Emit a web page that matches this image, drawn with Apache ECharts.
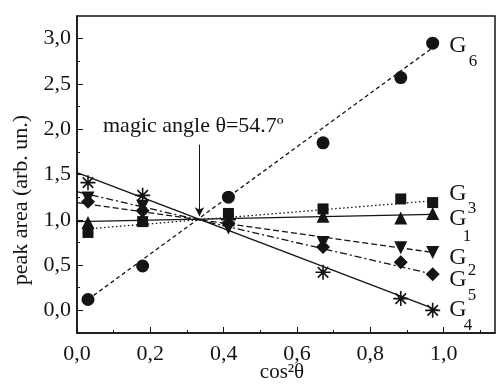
<!DOCTYPE html>
<html>
<head>
<meta charset="utf-8">
<script src="https://cdn.jsdelivr.net/npm/echarts@6/dist/echarts.min.js"></script>
<style>html,body{margin:0;padding:0;background:#fff}#chart{width:500px;height:384px}</style>
</head>
<body>
<div id="chart"></div>
<script>
// cos^2(theta) of the measured points
var cos2 = [0.03, 0.179, 0.413, 0.671, 0.883, 0.970];
var g6 = [0.12, 0.49, 1.25, 1.85, 2.57, 2.95];
var g3 = [0.86, 0.98, 1.07, 1.12, 1.23, 1.19];
var g1 = [0.97, 1.00, 1.00, 1.04, 1.02, 1.07];
var g2 = [1.24, 1.15, 0.91, 0.75, 0.69, 0.64];
var g5 = [1.20, 1.10, 0.96, 0.70, 0.53, 0.40];
var g4 = [1.41, 1.27, 1.00, 0.42, 0.13, 0.00];
// straight line fits: [x0, y0, x1, y1]
var fit6 = [0.03, 0.12, 0.97, 2.90];
var fit3 = [0.03, 0.90, 0.97, 1.21];
var fit1 = [0.0, 0.98, 0.97, 1.06];
var fit2 = [0.0, 1.19, 0.97, 0.64];
var fit5 = [0.0, 1.31, 0.97, 0.40];
var fit4 = [0.0, 1.52, 0.985, 0.0];
var magicX = 0.334; // cos^2(54.7)
var xTicks = [0, 0.2, 0.4, 0.6, 0.8, 1.0];
var xMinor = [0.1, 0.3, 0.5, 0.7, 0.9, 1.1];
var yTicks = [0, 0.5, 1.0, 1.5, 2.0, 2.5, 3.0];
var yMinor = [-0.25, 0.25, 0.75, 1.25, 1.75, 2.25, 2.75];

var ink = '#141414';
var serif = '"Liberation Serif", "Times New Roman", serif';
var asterisk = 'path://M0,5L10,5M5,0L5,10M1.5,1.5L8.5,8.5M1.5,8.5L8.5,1.5';

var chart = echarts.init(document.getElementById('chart'));

function pts(ys) {
  return cos2.map(function (x, i) { return [x, ys[i]]; });
}
function fitLine(f, type) {
  return {
    type: 'line', data: [[f[0], f[1]], [f[2], f[3]]], symbol: 'none', silent: true,
    lineStyle: { color: ink, width: 1.3, type: type }, z: 2
  };
}
function marks(ys, symbol, size, extra) {
  var s = {
    type: 'scatter', data: pts(ys), symbol: symbol, symbolSize: size,
    itemStyle: { color: ink, opacity: 1 }, z: 5
  };
  if (extra) s.itemStyle = extra;
  return s;
}
function fmt(v) { return v.toFixed(1).replace('.', ','); }
function label(txt, x, y, size) {
  return { type: 'text', x: x, y: y, style: { text: txt, font: size + 'px ' + serif, fill: ink, align: 'center', verticalAlign: 'middle' } };
}

var baseX = {
  type: 'value', min: 0, max: 1.14, splitLine: { show: false }
};
var baseY = {
  type: 'value', min: -0.25, max: 3.25, splitLine: { show: false }
};

var g6line = fitLine(fit6, [4, 3]);
g6line.markLine = {
  silent: true, symbol: ['none', 'arrow'], symbolSize: [7, 9],
  lineStyle: { color: ink, width: 1, type: 'solid' }, label: { show: false },
  data: [[{ coord: [magicX, 1.83] }, { coord: [magicX, 1.04] }]]
};

chart.setOption({
  animation: false,
  grid: {
    left: 77, right: 5, top: 16, bottom: 51, outerBoundsMode: 'none',
    show: true, borderColor: ink, borderWidth: 1.5
  },
  xAxis: [
    Object.assign({}, baseX, {
      axisLine: { onZero: false, lineStyle: { color: ink, width: 1.5 } },
      axisTick: { inside: true, length: 6, customValues: xTicks, lineStyle: { color: ink } },
      axisLabel: { customValues: xTicks, formatter: fmt, fontFamily: serif, fontSize: 22, color: ink, margin: 10 }
    }),
    Object.assign({}, baseX, {
      position: 'bottom',
      axisLine: { show: false, onZero: false },
      axisTick: { inside: true, length: 3, customValues: xMinor, lineStyle: { color: ink } },
      axisLabel: { show: false }
    })
  ],
  yAxis: [
    Object.assign({}, baseY, {
      axisLine: { onZero: false, lineStyle: { color: ink, width: 1.5 } },
      axisTick: { inside: true, length: 6, customValues: yTicks, lineStyle: { color: ink } },
      axisLabel: { customValues: yTicks, formatter: fmt, fontFamily: serif, fontSize: 22, color: ink, margin: 6 }
    }),
    Object.assign({}, baseY, {
      position: 'left',
      axisLine: { show: false, onZero: false },
      axisTick: { inside: true, length: 3, customValues: yMinor, lineStyle: { color: ink } },
      axisLabel: { show: false }
    })
  ],
  series: [
    g6line,
    fitLine(fit3, [1.5, 2.5]),
    fitLine(fit1, 'solid'),
    fitLine(fit2, [6, 3]),
    fitLine(fit5, [7, 3, 2, 3]),
    fitLine(fit4, 'solid'),
    marks(g6, 'circle', 13),
    marks(g3, 'rect', 11),
    marks(g1, 'triangle', 13),
    marks(g2, 'path://M0,0L10,0L5,9Z', 13),
    marks(g5, 'diamond', 14),
    marks(g4, asterisk, 15, { color: 'rgba(0,0,0,0)', borderColor: ink, borderWidth: 1.6, opacity: 1 })
  ],
  graphic: [
    { type: 'text', x: 21, y: 200, rotation: Math.PI / 2,
      style: { text: 'peak area (arb. un.)', font: '22px ' + serif, fill: ink, align: 'center', verticalAlign: 'middle' } },
    { type: 'text', x: 282, y: 372,
      style: { text: 'cos²θ', font: '21px ' + serif, fill: ink, align: 'center', verticalAlign: 'middle' } },
    { type: 'text', left: 103, top: 115, style: { text: 'magic angle θ=54.7º', font: '22px ' + serif, fill: ink } },
    label('G', 458, 46, 24), label('6', 473, 62, 17),
    label('G', 458, 194, 24), label('3', 472, 209, 17),
    label('G', 458, 219, 24), label('1', 467, 237, 17),
    label('G', 458, 258, 24), label('2', 472, 271, 17),
    label('G', 458, 280, 24), label('5', 472, 296, 17),
    label('G', 458, 310, 24), label('4', 468, 326, 17)
  ]
});
</script>
</body>
</html>
